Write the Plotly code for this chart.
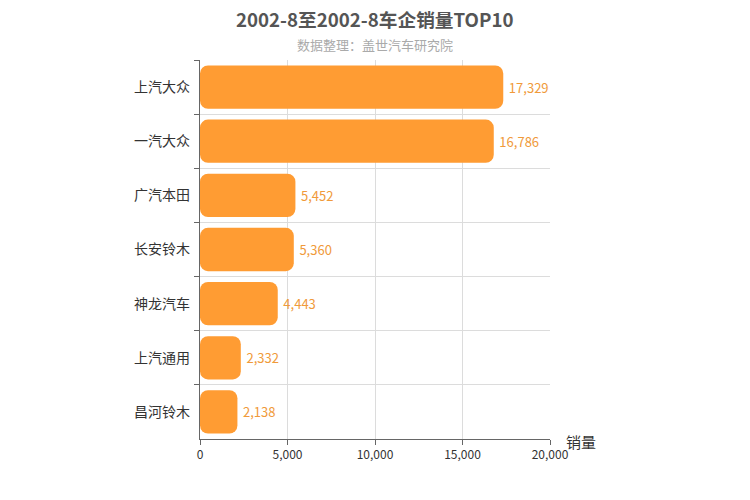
import plotly.graph_objects as go

categories = ["上汽大众", "一汽大众", "广汽本田", "长安铃木", "神龙汽车", "上汽通用", "昌河铃木"]
sales = [17329, 16786, 5452, 5360, 4443, 2332, 2138]
x_ticks = [0, 5000, 10000, 15000, 20000]

title = "2002-8至2002-8车企销量TOP10"
subtitle = "数据整理：盖世汽车研究院"
axis_name = "销量"

BAR = "#FF9C33"
FONT = "Noto Sans CJK SC"

labels = ["\u2009" + f"{v:,}" for v in sales]
zero_base = [0 for _ in sales]

fig = go.Figure()
fig.add_trace(go.Bar(
    y=categories, x=sales, base=zero_base, orientation="h",
    marker=dict(color=BAR, cornerradius=8, line=dict(width=0), opacity=1),
    width=0.8,
    text=labels, textposition="outside",
    textfont=dict(color="#F09A3A", size=13, family=FONT),
    cliponaxis=False, hoverinfo="skip", showlegend=False,
))

fig.update_layout(
    width=750, height=500,
    paper_bgcolor="white", plot_bgcolor="white",
    margin=dict(l=200, r=200, t=60, b=61, autoexpand=False),
    font=dict(family=FONT, color="#333"),
    xaxis=dict(range=[0, 20000], tickvals=x_ticks, tickformat=",",
               showgrid=True, gridcolor="#dcdcdc", gridwidth=1,
               showline=True, linecolor="#666", linewidth=1,
               ticks="outside", ticklen=5, tickcolor="#666",
               tickfont=dict(size=12, color="#333"), zeroline=False,
               automargin=False),
    yaxis=dict(categoryorder="array", categoryarray=categories, autorange="reversed",
               tickson="boundaries", showgrid=True, gridcolor="#dcdcdc",
               showline=True, linecolor="#666", linewidth=1,
               ticks="outside", ticklen=5, tickcolor="#666",
               tickfont=dict(size=14, color="#333"), ticksuffix="  ",
               automargin=False),
    annotations=[
        dict(text=f"<b>{title}</b>", xref="paper", yref="paper", x=0.5, y=1.0, yshift=42,
             xanchor="center", yanchor="middle", showarrow=False,
             font=dict(size=18.7, color="#555", family=FONT)),
        dict(text=subtitle, xref="paper", yref="paper", x=0.5, y=1.0, yshift=16,
             xanchor="center", yanchor="middle", showarrow=False,
             font=dict(size=13, color="#aaa", family=FONT)),
        dict(text=axis_name, xref="x", yref="paper", x=20000, y=0, xshift=14, yshift=-2,
             xanchor="left", yanchor="middle", showarrow=False,
             font=dict(size=15, color="#333", family=FONT)),
    ],
)

fig.write_html("out.html", config={"displayModeBar": False},
               post_script="document.body.style.margin='0';")
